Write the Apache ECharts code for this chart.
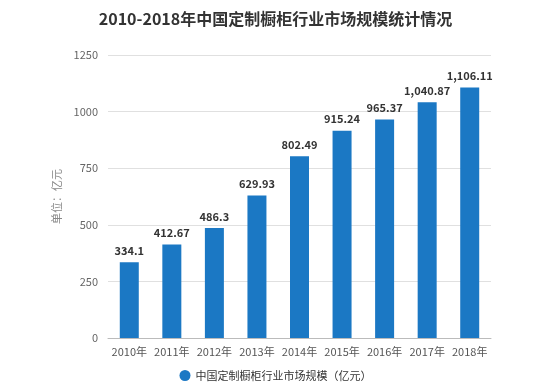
<!DOCTYPE html>
<html><head><meta charset="utf-8">
<script src="https://cdn.jsdelivr.net/npm/echarts@6/dist/echarts.min.js"></script>
<style>html,body{margin:0;padding:0;background:#fff}#c{width:551px;height:390px}</style>
</head><body><div id="c"></div>
<script>
const categories = ['2010年','2011年','2012年','2013年','2014年','2015年','2016年','2017年','2018年'];
const values = [334.1, 412.67, 486.3, 629.93, 802.49, 915.24, 965.37, 1040.87, 1106.11];
const seriesName = '中国定制橱柜行业市场规模（亿元）';
const chart = echarts.init(document.getElementById('c'));
const fmt = v => v.toLocaleString('en-US', {maximumFractionDigits: 2});
chart.setOption({
  animation: false,
  title: {text: '2010-2018年中国定制橱柜行业市场规模统计情况', left: 'center', top: 6,
    textStyle: {fontFamily: 'Noto Sans CJK SC', fontSize: 16, fontWeight: 'bold', color: '#333'}},
  legend: {bottom: 4, left: 'center', icon: 'circle', itemWidth: 11, itemHeight: 11,
    textStyle: {fontFamily: 'Noto Sans CJK SC', fontSize: 11, color: '#333'}, data: [seriesName]},
  grid: {left: 108, right: 60, top: 55, bottom: 52},
  xAxis: {type: 'category', data: categories,
    axisLine: {lineStyle: {color: '#bbb'}}, axisTick: {show: false},
    axisLabel: {interval: 0, fontFamily: 'Noto Sans CJK SC', fontSize: 11, color: '#555', margin: 8}},
  yAxis: {type: 'value', min: 0, max: 1250, interval: 250,
    name: '单位：亿元', nameLocation: 'middle', nameGap: 44,
    nameTextStyle: {fontFamily: 'Noto Sans CJK SC', fontSize: 11, color: '#888'},
    axisLine: {show: false}, axisTick: {show: false},
    splitLine: {lineStyle: {color: '#e0e0e0'}},
    axisLabel: {formatter: v => String(v), fontFamily: 'Noto Sans CJK SC', fontSize: 11, color: '#666', margin: 10}},
  series: [{name: seriesName, type: 'bar', data: values, barWidth: 19,
    itemStyle: {color: '#1b78c4'},
    label: {show: true, position: 'top', distance: 6, fontFamily: 'Noto Sans CJK SC', fontSize: 11, fontWeight: 'bold', color: '#333',
      formatter: p => fmt(p.value)}}]
});
</script></body></html>
